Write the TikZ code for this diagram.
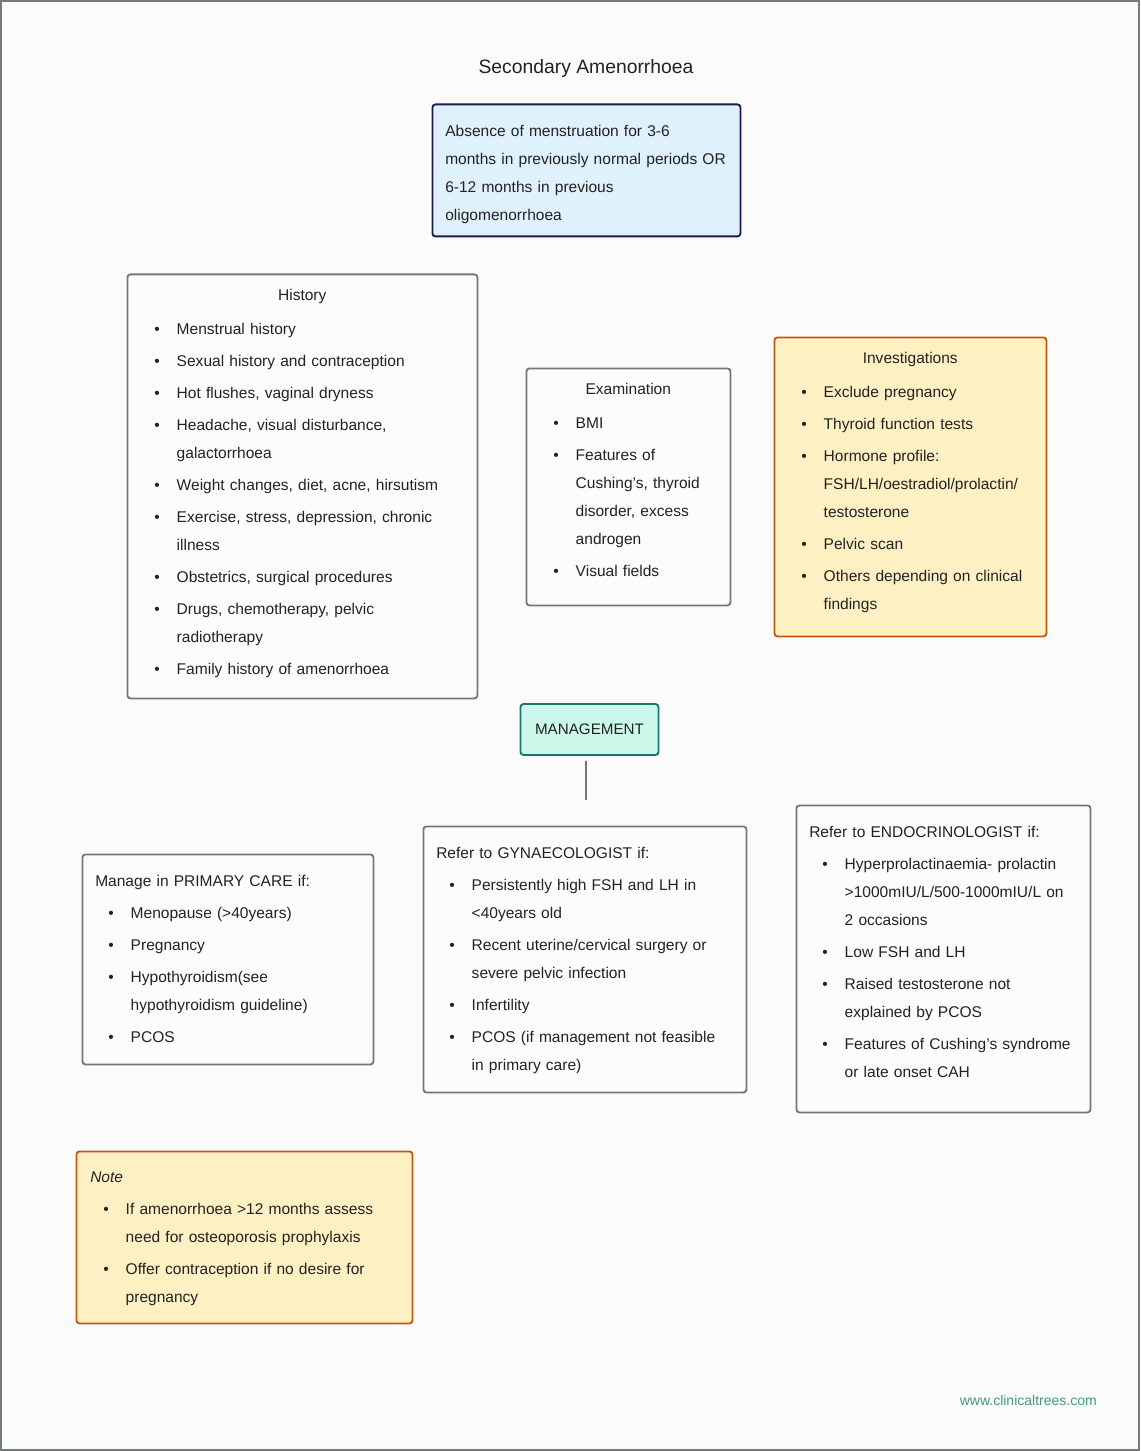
\documentclass[tikz,border=0pt]{standalone}
\usepackage{fontspec}
\setmainfont{Liberation Sans}
\usepackage{enumitem}
\usetikzlibrary{positioning}

\definecolor{pagebg}{HTML}{FBFBFB}
\definecolor{pageline}{HTML}{737B74}
\definecolor{ink}{HTML}{222222}
\definecolor{defbg}{HTML}{DFF1FB}
\definecolor{defline}{HTML}{1C1C4C}
\definecolor{plainbg}{HTML}{FCFCFC}
\definecolor{plainline}{HTML}{767676}
\definecolor{notebg}{HTML}{FDF0C3}
\definecolor{noteline}{HTML}{C0580F}
\definecolor{mgmtbg}{HTML}{CCF7EB}
\definecolor{mgmtline}{HTML}{18776A}
\definecolor{webgreen}{HTML}{3F9C77}

\newcommand{\px}{0.75pt}

\setlist[itemize]{label=\textbullet, leftmargin=26.6pt, labelsep=12.75pt, itemsep=3pt, parsep=0pt, topsep=3pt, partopsep=0pt}

\tikzset{
  framebox/.style={anchor=north west, rounded corners=2.25pt, line width=1.4pt, inner sep=0pt},
  plainbox/.style={framebox, draw=plainline, fill=plainbg},
  notebox/.style={framebox, draw=noteline, fill=notebg},
  defbox/.style={framebox, draw=defline, fill=defbg},
  boxtext/.style={anchor=north west, inner sep=0pt, align=left, text=ink,
    font=\fontsize{11.65pt}{21pt}\selectfont},
  link/.style={draw=plainline, line width=1.4pt}
}

\begin{document}
\begin{tikzpicture}[x=\px, y=-\px]
\useasboundingbox (0,0) rectangle (1140,1451);

\draw[pageline, fill=pagebg, line width=1.5pt] (1,1) rectangle (1139,1450);

\node[text=ink, font=\fontsize{14.5pt}{17pt}\selectfont] (title) at (586,68.5) {Secondary Amenorrhoea};

\node[defbox, minimum width=308*\px, minimum height=132*\px] (definition) at (431.5,103.5) {};
\node[boxtext, text width=300*\px] (definitiontext) at (445,125) {Absence of menstruation for 3-6\\
months in previously normal periods OR\\
6-12 months in previous\\
oligomenorrhoea};

\node[plainbox, minimum width=350*\px, minimum height=424*\px] (history) at (126.5,273.5) {};
\node[boxtext, text width=322*\px] (historytext) at (141,289) {{\centering History\par}
\begin{itemize}[topsep=4.5pt]
\item Menstrual history
\item Sexual history and contraception
\item Hot flushes, vaginal dryness
\item Headache, visual disturbance,\newline galactorrhoea
\item Weight changes, diet, acne, hirsutism
\item Exercise, stress, depression, chronic\newline illness
\item Obstetrics, surgical procedures
\item Drugs, chemotherapy, pelvic\newline radiotherapy
\item Family history of amenorrhoea
\end{itemize}};

\node[plainbox, minimum width=204*\px, minimum height=237*\px] (exam) at (525.5,367.5) {};
\node[boxtext, text width=176*\px] (examtext) at (540,383) {{\centering Examination\par}
\begin{itemize}[topsep=4.5pt]
\item BMI
\item Features of\newline Cushing's, thyroid\newline disorder, excess\newline androgen
\item Visual fields
\end{itemize}};

\node[notebox, minimum width=272*\px, minimum height=299*\px] (invest) at (773.5,336.5) {};
\node[boxtext, text width=244*\px] (investtext) at (788,352) {{\centering Investigations\par}
\begin{itemize}[topsep=4.5pt]
\item Exclude pregnancy
\item Thyroid function tests
\item Hormone profile:\newline FSH/LH/oestradiol/prolactin/\newline testosterone
\item Pelvic scan
\item Others depending on clinical\newline findings
\end{itemize}};

\node[draw=mgmtline, fill=mgmtbg, rounded corners=2.25pt, line width=1.4pt, minimum width=138*\px, minimum height=51*\px, text=ink, font=\fontsize{11.4pt}{14pt}\selectfont] (mgmt) at (589.5,729.5) {MANAGEMENT};

\coordinate (mgmtend) at (586,800);
\draw[link] ([xshift=-3.5*\px, yshift=-5*\px]mgmt.south) -- (mgmtend);

\node[plainbox, minimum width=291*\px, minimum height=210*\px] (primary) at (81.5,853.5) {};
\node[boxtext, text width=272*\px] (primarytext) at (95,875) {Manage in PRIMARY CARE if:
\begin{itemize}
\item Menopause (>40years)
\item Pregnancy
\item Hypothyroidism(see\newline hypothyroidism guideline)
\item PCOS
\end{itemize}};

\node[plainbox, minimum width=323*\px, minimum height=266*\px] (gynae) at (422.5,825.5) {};
\node[boxtext, text width=305*\px] (gynaetext) at (436,847) {Refer to GYNAECOLOGIST if:
\begin{itemize}
\item Persistently high FSH and LH in\newline <40years old
\item Recent uterine/cervical surgery or\newline severe pelvic infection
\item Infertility
\item PCOS (if management not feasible\newline in primary care)
\end{itemize}};

\node[plainbox, minimum width=294*\px, minimum height=307*\px] (endo) at (795.5,804.5) {};
\node[boxtext, text width=290*\px] (endotext) at (809,826) {Refer to ENDOCRINOLOGIST if:
\begin{itemize}
\item Hyperprolactinaemia- prolactin\newline >1000mIU/L/500-1000mIU/L on\newline 2 occasions
\item Low FSH and LH
\item Raised testosterone not\newline explained by PCOS
\item Features of Cushing's syndrome\newline or late onset CAH
\end{itemize}};

\node[notebox, minimum width=336*\px, minimum height=172*\px] (note) at (75.5,1150.5) {};
\node[boxtext, text width=318*\px] (notetext) at (90,1172) {\textit{Note}
\begin{itemize}
\item If amenorrhoea >12 months assess\newline need for osteoporosis prophylaxis
\item Offer contraception if no desire for\newline pregnancy
\end{itemize}};

\node[anchor=east, inner sep=0pt, text=webgreen, font=\fontsize{10.5pt}{13pt}\selectfont] (website) at (1097,1400) {www.clinicaltrees.com};

\end{tikzpicture}
\end{document}
